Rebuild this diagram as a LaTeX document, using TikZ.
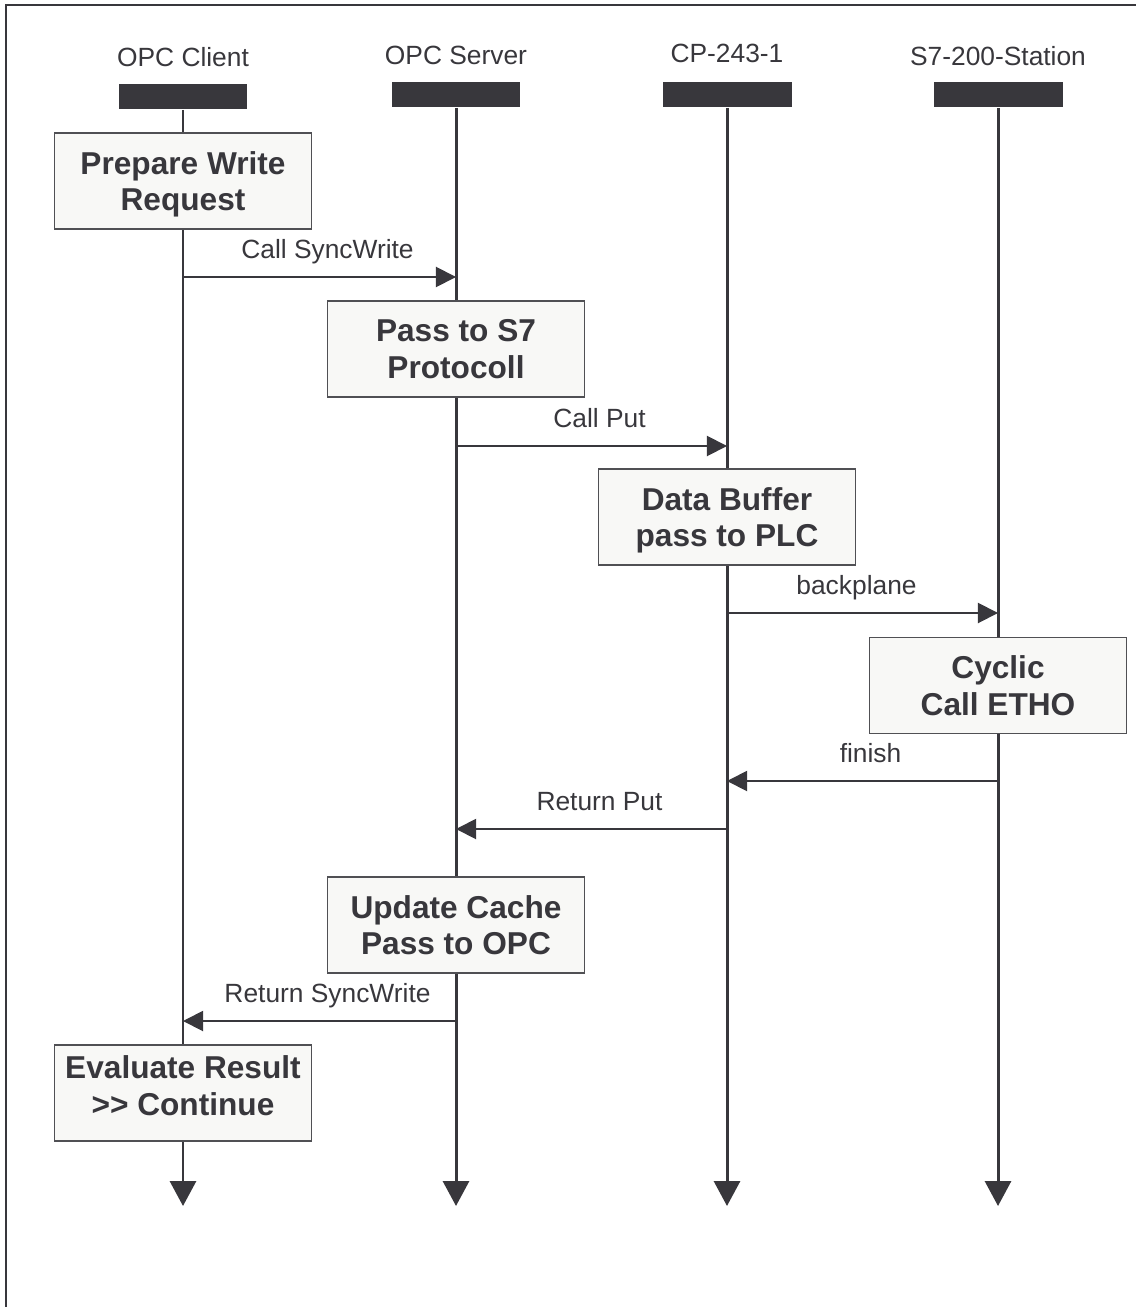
\documentclass[tikz,border=0pt]{standalone}
\usepackage{fontspec}
\setmainfont{Liberation Sans}
\usetikzlibrary{arrows.meta, positioning}
\definecolor{ink}{RGB}{56,55,60}
\definecolor{boxfill}{RGB}{248,248,246}
\definecolor{boxline}{RGB}{80,80,84}
\def\laneend{1206}

\begin{document}
\begin{tikzpicture}[x=0.02cm, y=-0.02cm]
    \tikzstyle{lane bar}=[fill=ink, draw=none, minimum width=2.58cm, minimum height=0.5cm, inner sep=0pt]
    \tikzstyle{lane title}=[text=ink, anchor=base, inner sep=0pt, font=\fontsize{15}{18}\selectfont]
    \tikzstyle{stepbox}=[draw=boxline, fill=boxfill, line width=0.85pt, minimum width=5.14cm, minimum height=1.92cm, align=center, text depth=0pt, text=ink, font=\fontsize{18}{21}\selectfont\bfseries]
    \tikzstyle{lifeline}=[draw=ink, line width=1.7pt, -{Triangle[length=14.2pt,width=14.8pt]}]
    \tikzstyle{msg}=[draw=ink, line width=1.1pt, -{Triangle[length=11.4pt,width=11.4pt]}]
    \tikzstyle{msg label}=[text=ink, anchor=base, inner sep=0pt, yshift=0.37cm, font=\fontsize{15}{18}\selectfont]

    \useasboundingbox (0,0) rectangle (1135,1307);

    % Draw the frame
    \draw[ink, line width=1.1pt] (6,1320) -- (6,5) -- (1145,5);

    % Draw the lanes
    \foreach \name / \x / \y / \ty / \title in {1/183/97/67/OPC Client, 2/456/95/65/OPC Server, 3/727/95/63/CP-243-1, 4/998/95/66/S7-200-Station}
    {
        \node[lane bar] (B-\name) at (\x,\y) {};
        \node[lane title] (T-\name) at (\x,\ty) {\title};
        \coordinate (E-\name) at (\x,\laneend);
        \draw[lifeline] (B-\name.south) -- (E-\name);
    }

    % Draw the steps
    \node[stepbox] (S-1) at (183,181) {Prepare Write\\Request};
    \node[stepbox] (S-2) at (456,349) {Pass to S7\\Protocoll};
    \node[stepbox] (S-3) at (727,517) {Data Buffer\\pass to PLC};
    \node[stepbox] (S-4) at (998,685.5) {Cyclic\\Call ETHO};
    \node[stepbox] (S-5) at (456,925) {Update Cache\\Pass to OPC};
    \node[stepbox, text depth=8pt] (S-6) at (183,1093) {Evaluate Result\\>{}> Continue};

    % Draw the messages
    \foreach \a / \b / \y / \dx / \txt in {1/2/277/8/Call SyncWrite, 2/3/446/8/Call Put, 3/4/613/-6/backplane, 4/3/781/8/finish, 3/2/829/8/Return Put, 2/1/1021/8/Return SyncWrite}
        \draw[msg] (B-\a |- 0,\y) -- (B-\b |- 0,\y)
            node[msg label, midway, xshift=\dx*0.02cm] {\txt};
\end{tikzpicture}
\end{document}
